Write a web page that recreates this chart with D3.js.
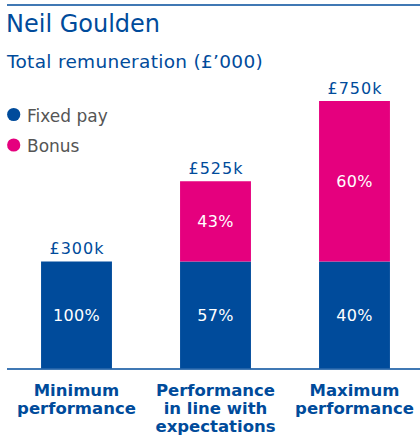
<!DOCTYPE html>
<html>
<head>
<meta charset="utf-8">
<script src="https://cdn.jsdelivr.net/npm/d3@7/dist/d3.min.js"></script>
<style>
  html, body { margin: 0; padding: 0; background: #fff; }
  svg { display: block; }
</style>
</head>
<body>
<svg id="chart" width="420" height="435"></svg>
<script>
// Remuneration scenarios (£'000)
const categories = ["Minimum performance", "Performance in line with expectations", "Maximum performance"];
const categoryLines = [["Minimum", "performance"], ["Performance", "in line with", "expectations"], ["Maximum", "performance"]];
const fixedPay = [300, 300, 300];
const bonus = [0, 225, 450];
const fixedPct = ["100%", "57%", "40%"];
const bonusPct = ["", "43%", "60%"];
const totalLabels = ["£300k", "£525k", "£750k"];
const seriesNames = ["Fixed pay", "Bonus"];

const BLUE = "#004b9b";
const PINK = "#e5007e";
const FONT = "'DejaVu Sans', 'Noto Sans', sans-serif";

const svg = d3.select("#chart");
const rows = categories.map((c, i) => ({ cat: c, fixed: fixedPay[i], bonus: bonus[i] }));
const stack = d3.stack().keys(["fixed", "bonus"])(rows);

const x = d3.scaleBand().domain(categories).range([7, 424]).paddingInner(0.49).paddingOuter(0.245);
const y = d3.scaleLinear().domain([0, 750]).range([368.5, 101]);

// Top rule
svg.append("line").attr("x1", 7).attr("x2", 420).attr("y1", 5).attr("y2", 5)
  .attr("stroke", BLUE).attr("stroke-width", 1.6);

// Titles
svg.append("text").attr("x", 6).attr("y", 32).text("Neil Goulden")
  .attr("font-family", FONT).attr("font-size", 24).attr("fill", BLUE);
svg.append("text").attr("x", 7).attr("y", 68).text("Total remuneration (£’000)")
  .attr("font-family", FONT).attr("font-size", 18.5).attr("letter-spacing", 0.3).attr("fill", BLUE);

// Legend
const legend = svg.append("g");
[BLUE, PINK].forEach((col, i) => {
  const ly = 114.5 + i * 30.5;
  legend.append("circle").attr("cx", 13.7).attr("cy", ly).attr("r", 6.6).attr("fill", col);
  legend.append("text").attr("x", 27).attr("y", ly + 7).text(seriesNames[i])
    .attr("font-family", FONT).attr("font-size", 17).attr("fill", "#555");
});

// Stacked bars
const colors = [BLUE, PINK];
const pctLabels = [fixedPct, bonusPct];
stack.forEach((layer, li) => {
  const g = svg.append("g");
  layer.forEach((d, i) => {
    if (d[1] - d[0] <= 0) return;
    g.append("rect")
      .attr("x", x(categories[i]))
      .attr("y", y(d[1]))
      .attr("width", x.bandwidth())
      .attr("height", y(d[0]) - y(d[1]))
      .attr("fill", colors[li]);
    g.append("text")
      .attr("x", x(categories[i]) + x.bandwidth() / 2)
      .attr("y", (y(d[0]) + y(d[1])) / 2 + 6)
      .attr("text-anchor", "middle")
      .attr("font-family", FONT).attr("font-size", 16).attr("letter-spacing", 0.3).attr("fill", "#fff")
      .text(pctLabels[li][i]);
  });
});

// Totals above bars
rows.forEach((r, i) => {
  svg.append("text")
    .attr("x", x(categories[i]) + x.bandwidth() / 2 + 0.5)
    .attr("y", y(r.fixed + r.bonus) - 7.5)
    .attr("text-anchor", "middle")
    .attr("font-family", FONT).attr("font-size", 16).attr("letter-spacing", 1).attr("fill", BLUE)
    .text(totalLabels[i]);
});

// Baseline
svg.append("line").attr("x1", 7).attr("x2", 420).attr("y1", y(0) + 0.5).attr("y2", y(0) + 0.5)
  .attr("stroke", BLUE).attr("stroke-width", 1.4);

// Category labels
categoryLines.forEach((lines, i) => {
  const t = svg.append("text")
    .attr("text-anchor", "middle")
    .attr("font-family", FONT).attr("font-size", 16.5).attr("font-weight", "bold").attr("fill", BLUE);
  lines.forEach((ln, k) => {
    t.append("tspan").attr("x", x(categories[i]) + x.bandwidth() / 2).attr("y", 395.7 + k * 18.3).text(ln);
  });
});
</script>
</body>
</html>
